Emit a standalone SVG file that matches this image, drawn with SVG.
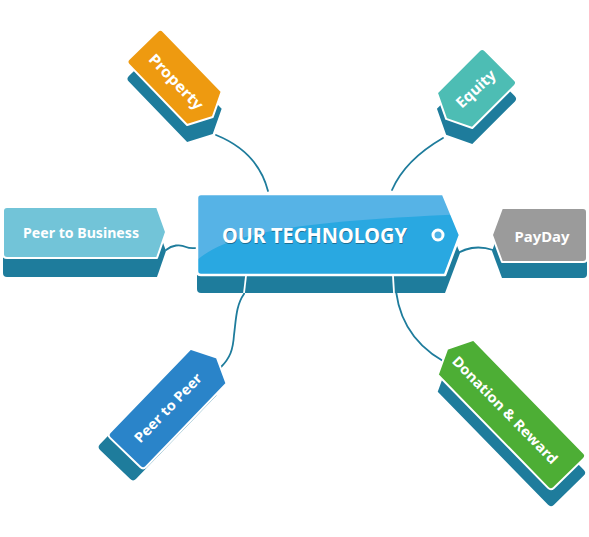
<svg xmlns="http://www.w3.org/2000/svg" width="589" height="537" viewBox="0 0 589 537">
<style>
.con{fill:none;stroke:#1e7c9c;stroke-width:1.8;stroke-linecap:round}
.base{fill:#1e7c9c}
.face{stroke:#fff;stroke-width:2;stroke-linejoin:round}
.lbl{font-family:"Noto Sans","Open Sans",sans-serif;font-weight:700;fill:#fff;text-anchor:middle}
</style>
<defs>
<clipPath id="cclip"><path d="M201,194 H443 L460,235 L445,275 H201 Q197,275 197,271 V198 Q197,194 201,194 Z"/></clipPath>
</defs>
<rect width="589" height="537" fill="#fff"/>
<g id="connectors">
<path class="con" d="M216,135 Q258,152 268,191"/>
<path class="con" d="M443,138 Q405,160 392,190"/>
<path class="con" d="M166,250 C172,245 180,244 186,247 C190,249 194,248 198,248"/>
<path class="con" d="M452,257 C465,247 478,245 493,250"/>
<path class="con" d="M246,276 L244,294 C236,305 236,320 234,335 C233,350 230,358 221,367"/>
<path class="con" d="M395,278 C396,320 415,345 443,361"/>
</g>
<g id="property">
<path class="base" transform="translate(178,98) rotate(46)" d="M-46,-24 H38 L50,0 L38,24 H-46 Q-50,24 -50,20 V-20 Q-50,-24 -46,-24 Z"/>
<path class="face" fill="#ee9a10" transform="translate(178,81) rotate(46)" d="M-46,-24 H38 L50,0 L38,24 H-46 Q-50,24 -50,20 V-20 Q-50,-24 -46,-24 Z"/>
<text class="lbl" font-size="15" transform="translate(176,82) rotate(46)" y="5" textLength="71" lengthAdjust="spacingAndGlyphs">Property</text>
</g>
<g id="equity">
<path class="base" transform="translate(473,108) rotate(-45)" d="M-26,-25 H34 Q38,-25 38,-21 V21 Q38,25 34,25 H-26 L-38,0 Z"/>
<path class="face" fill="#4dbdb4" transform="translate(473,92) rotate(-45)" d="M-26,-25 H34 Q38,-25 38,-21 V21 Q38,25 34,25 H-26 L-38,0 Z"/>
<text class="lbl" font-size="15" transform="translate(476,89) rotate(-43)" y="5" textLength="48" lengthAdjust="spacingAndGlyphs">Equity</text>
</g>
<g id="peer-to-business">
<path class="base" transform="translate(0,19)" d="M7,207 H157 L166,232 L157,258 H7 Q3,258 3,254 V211 Q3,207 7,207 Z"/>
<path class="face" fill="#72c4d8" d="M7,207 H157 L166,232 L157,258 H7 Q3,258 3,254 V211 Q3,207 7,207 Z"/>
<text class="lbl" font-size="14" x="81" y="238" textLength="116" lengthAdjust="spacingAndGlyphs">Peer to Business</text>
</g>
<g id="payday">
<path class="base" transform="translate(0,16)" d="M502,208 H583 Q587,208 587,212 V258 Q587,262 583,262 H502 L492,235 Z"/>
<path class="face" fill="#9b9b9b" d="M502,208 H583 Q587,208 587,212 V258 Q587,262 583,262 H502 L492,235 Z"/>
<text class="lbl" font-size="15" x="542" y="242" textLength="55" lengthAdjust="spacingAndGlyphs">PayDay</text>
</g>
<g id="peer-to-peer">
<path class="base" transform="translate(161,417) rotate(-46)" d="M-62,-25 H54 L66,0 L54,25 H-62 Q-66,25 -66,21 V-21 Q-66,-25 -62,-25 Z"/>
<path class="face" fill="#2a84c9" transform="translate(171,405) rotate(-46)" d="M-62,-25 H54 L66,0 L54,25 H-62 Q-66,25 -66,21 V-21 Q-66,-25 -62,-25 Z"/>
<text class="lbl" font-size="14" transform="translate(168,408) rotate(-46)" y="5" textLength="90" lengthAdjust="spacingAndGlyphs">Peer to Peer</text>
</g>
<g id="donation-reward">
<path class="base" transform="translate(508,428) rotate(45.7)" d="M-75,-25 H83 Q87,-25 87,-21 V21 Q87,25 83,25 H-75 L-87,0 Z"/>
<path class="face" fill="#4dae35" transform="translate(508,411) rotate(45.7)" d="M-75,-25 H83 Q87,-25 87,-21 V21 Q87,25 83,25 H-75 L-87,0 Z"/>
<text class="lbl" font-size="14" transform="translate(505,410) rotate(45.7)" y="5" textLength="144" lengthAdjust="spacingAndGlyphs">Donation &amp; Reward</text>
</g>
<g id="our-technology">
<path class="base" transform="translate(0,18)" d="M201,194 H443 L460,235 L445,275 H201 Q197,275 197,271 V198 Q197,194 201,194 Z"/>
<line x1="246" y1="276" x2="244" y2="293" stroke="#fff" stroke-width="1.8"/>
<line x1="393" y1="276" x2="394" y2="293" stroke="#fff" stroke-width="1.8"/>
<path fill="#29a8e1" d="M201,194 H443 L460,235 L445,275 H201 Q197,275 197,271 V198 Q197,194 201,194 Z"/>
<path fill="#56b3e6" clip-path="url(#cclip)" d="M190,190 H470 V214 L445,215 C300,222 230,232 197,260 L190,262 Z"/>
<path fill="none" stroke="#fff" stroke-width="2.5" stroke-linejoin="round" d="M201,194 H443 L460,235 L445,275 H201 Q197,275 197,271 V198 Q197,194 201,194 Z"/>
<text class="lbl" font-size="21" x="315" y="244" style="fill:#1d6f94" textLength="185" lengthAdjust="spacingAndGlyphs">OUR TECHNOLOGY</text>
<text class="lbl" font-size="21" x="314.5" y="242.5" textLength="185" lengthAdjust="spacingAndGlyphs">OUR TECHNOLOGY</text>
<circle cx="438" cy="235" r="5" fill="#4fb2e6" stroke="#fff" stroke-width="3"/>
</g>
</svg>
